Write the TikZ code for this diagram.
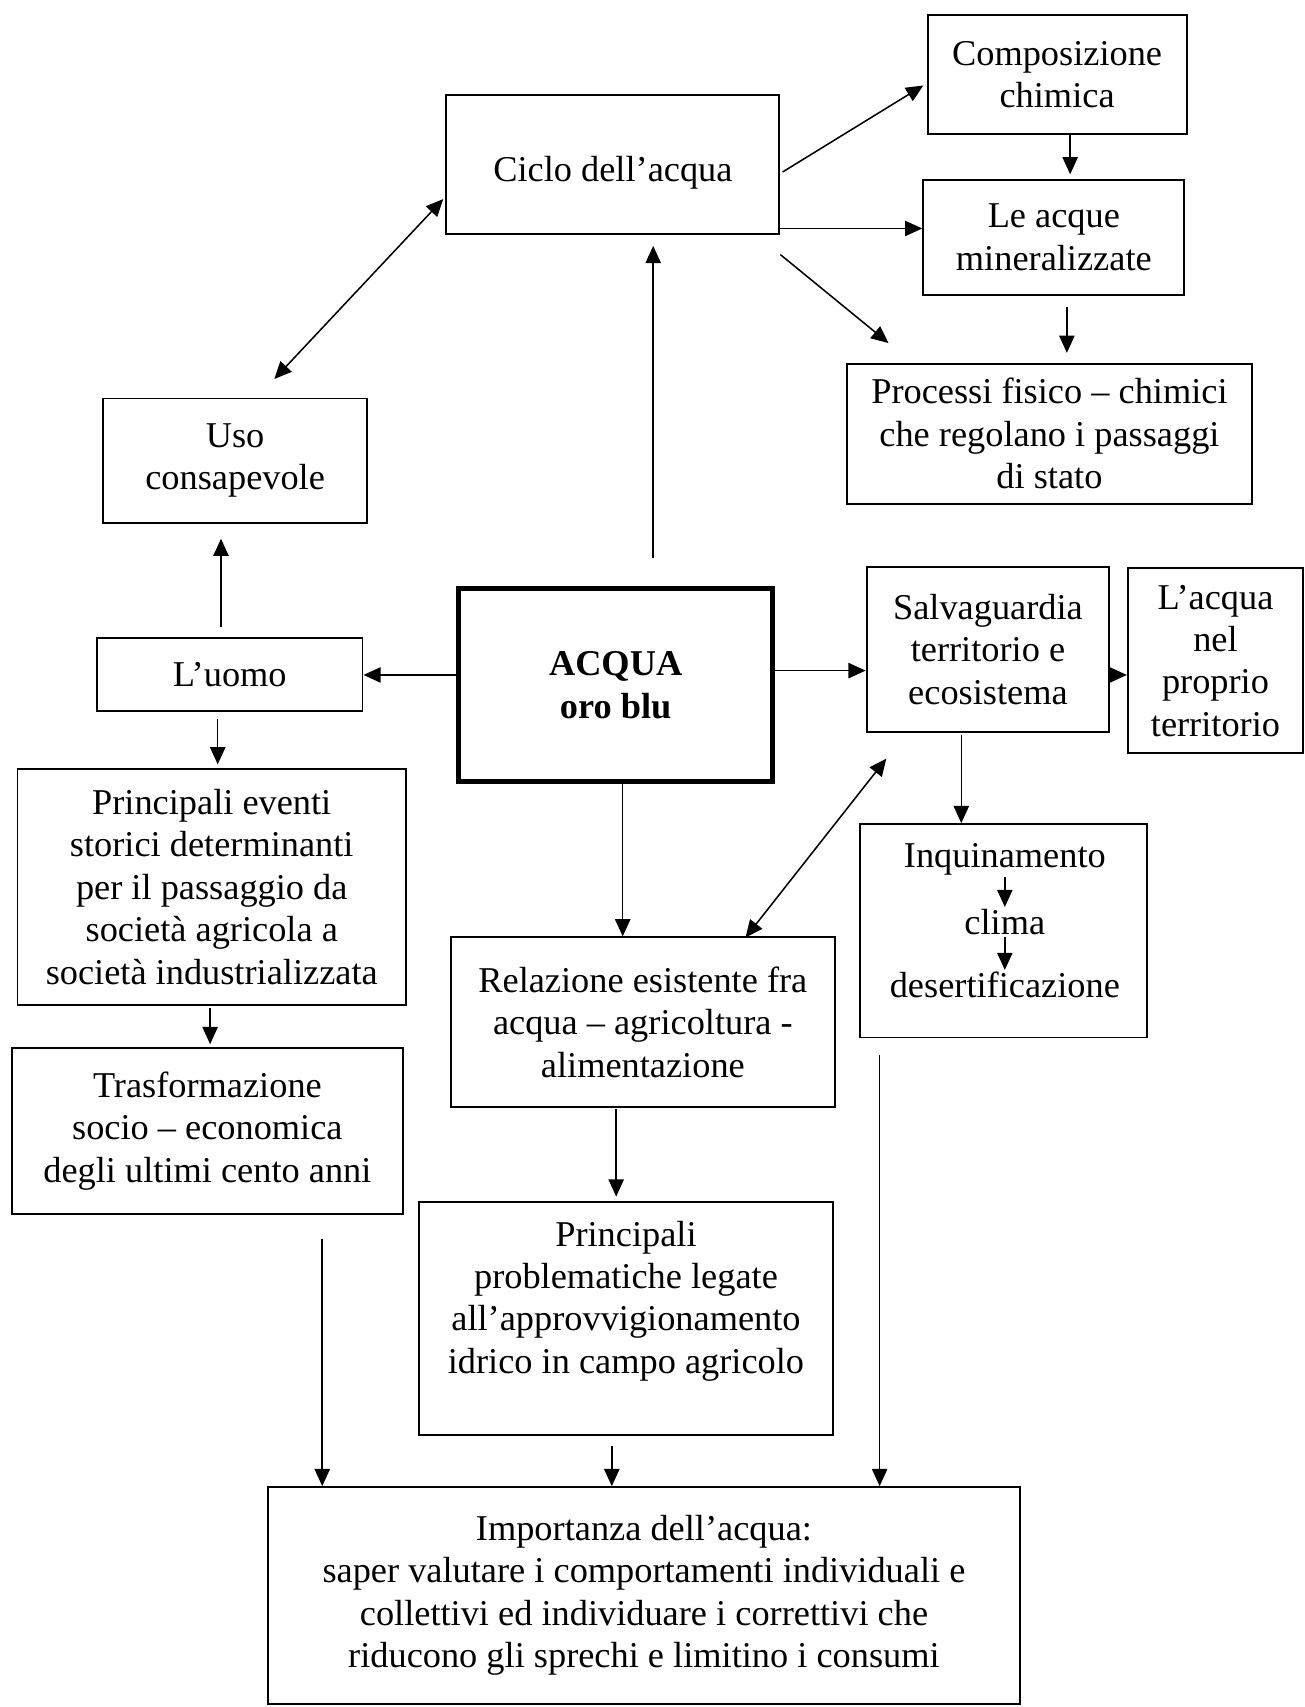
\documentclass[tikz,border=0pt]{standalone}
\usepackage{fontspec}
\setmainfont{Liberation Serif}
\usepackage{tikz}
\usetikzlibrary{arrows.meta, calc}
\newcommand{\mapfont}{\fontsize{19}{22.2}\selectfont}

\begin{document}
\begin{tikzpicture}[
  x=0.02cm, y=-0.02cm,
  box/.style={rectangle, draw, line width=1pt, align=center, inner sep=0pt, font=\mapfont},
  mainbox/.style={box, line width=2.6pt, font=\mapfont\bfseries},
  txt/.style={align=center, inner sep=1pt, font=\mapfont},
  arrow/.style={-{Triangle[length=9pt,width=8pt]}, line width=0.8pt},
  twoway/.style={{Triangle[length=9pt,width=8pt]}-{Triangle[length=9pt,width=8pt]}, line width=0.8pt}
  ]
  \useasboundingbox (0,0) rectangle (1198,1568);
  \fill[white] (0,0) rectangle (1198,1568);

  \node[box, minimum width=4.76cm, minimum height=2.18cm] (comp) at (971,68.5) {Composizione\\chimica};
  \node[box, minimum width=6.12cm, minimum height=2.56cm, text height=0.78cm, text depth=0.15cm] (ciclo) at (563,151) {Ciclo dell’acqua};
  \node[box, minimum width=4.8cm, minimum height=2.12cm] (acque) at (968,218) {Le acque\\mineralizzate};
  \node[box, minimum width=7.44cm, minimum height=2.58cm] (proc) at (964,398.5) {Processi fisico – chimici\\che regolano i passaggi\\di stato};
  \node[box, minimum width=4.84cm, minimum height=2.28cm] (uso) at (216,423) {Uso\\consapevole};
  \node[box, minimum width=4.88cm, minimum height=1.34cm] (uomo) at (211,619.5) {L’uomo};
  \node[mainbox, minimum width=5.78cm, minimum height=3.54cm] (acqua) at (565.5,629.5) {ACQUA\\oro blu};
  \node[box, minimum width=4.46cm, minimum height=3.02cm] (salva) at (907.5,596.5) {Salvaguardia\\territorio e\\ecosistema};
  \node[box, minimum width=3.22cm, minimum height=3.4cm] (nel) at (1116.5,607) {L’acqua\\nel\\proprio\\territorio};
  \node[box, minimum width=7.14cm, minimum height=4.34cm] (eventi) at (194.5,814.5) {Principali eventi\\storici determinanti\\per il passaggio da\\società agricola a\\società industrializzata};
  \node[box, minimum width=7.18cm, minimum height=3.04cm] (trasf) at (190.5,1039) {Trasformazione\\socio – economica\\degli ultimi cento anni};
  \node[box, minimum width=7.06cm, minimum height=3.12cm] (rel) at (590.5,939) {Relazione esistente fra\\acqua – agricoltura -\\alimentazione};
  \node[box, minimum width=5.28cm, minimum height=3.92cm] (inqbox) at (922,855) {};
  \node[txt] (inq) at (923,789) {Inquinamento};
  \node[txt] (clima) at (923,847) {clima};
  \node[txt] (desert) at (923,905) {desertificazione};
  \node[box, minimum width=7.6cm, minimum height=4.28cm] (prob) at (575,1211) {Principali\\problematiche legate\\all’approvvigionamento\\idrico in campo agricolo\\\mbox{}};
  \node[box, minimum width=13.82cm, minimum height=3.98cm] (imp) at (591.5,1465.5) {Importanza dell’acqua:\\saper valutare i comportamenti individuali e\\collettivi ed individuare i correttivi che\\riducono gli sprechi e limitino i consumi};

  \draw[arrow] ($(ciclo.east)+(2,7)$) -- ($(comp.west)+(-3,10)$);
  \draw[arrow] ($(ciclo.south east)+(0,-6)$) coordinate (b0) -- (b0 -| acque.west);
  \draw[arrow] ($(ciclo.south east)+(0,18)$) -- ($(proc.north west)+(39,-18)$);
  \draw[arrow, shorten >=0.08cm] ($(comp.south)+(12,0)$) coordinate (d0) -- (d0 |- acque.north);
  \draw[arrow, shorten >=0.18cm] ($(acque.south)+(12,10)$) coordinate (e0) -- (e0 |- proc.north);
  \draw[arrow, shorten >=0.2cm] ($(acqua.north)+(34.5,-26)$) coordinate (f0) -- (f0 |- ciclo.south);
  \draw[twoway] ($(ciclo.south west)+(-2,-33)$) -- ($(uso.north)+(36,-17)$);
  \draw[arrow, shorten >=0.28cm] ($(uomo.north)+(-8,-9)$) coordinate (h0) -- (h0 |- uso.south);
  \draw[arrow] ($(acqua.west)+(0,-9.5)$) coordinate (i0) -- (i0 -| uomo.east);
  \draw[arrow, shorten >=0.06cm] ($(uomo.south)+(-11,7)$) coordinate (j0) -- (j0 |- eventi.north);
  \draw[arrow, shorten >=0.06cm] ($(eventi.south)+(-1.5,2)$) coordinate (k0) -- (k0 |- trasf.north);
  \draw[arrow] ($(acqua.south)+(6.5,0)$) coordinate (l0) -- (l0 |- rel.north);
  \draw[arrow] ($(acqua.east)+(0,-13.5)$) coordinate (m0) -- (m0 -| salva.west);
  \draw[arrow] ($(salva.east)+(0,23.5)$) coordinate (n0) -- (n0 -| nel.west);
  \draw[arrow] ($(salva.south)+(-24.5,2)$) coordinate (o0) -- (o0 |- inqbox.north);
  \draw[twoway] ($(rel.north east)+(-83,1)$) -- ($(salva.south west)+(19,24)$);
  \draw[arrow] (inq) -- (clima);
  \draw[arrow] (clima) -- (desert);
  \draw[arrow] ($(trasf.south)+(105.5,22)$) coordinate (q0) -- (q0 |- imp.north);
  \draw[arrow] ($(prob.south)+(-13,9)$) coordinate (r0) -- (r0 |- imp.north);
  \draw[arrow] ($(inqbox.south)+(-114,15)$) coordinate (s0) -- (s0 |- imp.north);
  \draw[arrow, shorten >=0.08cm] ($(rel.south)+(-24.5,1)$) coordinate (t0) -- (t0 |- prob.north);
\end{tikzpicture}
\end{document}
